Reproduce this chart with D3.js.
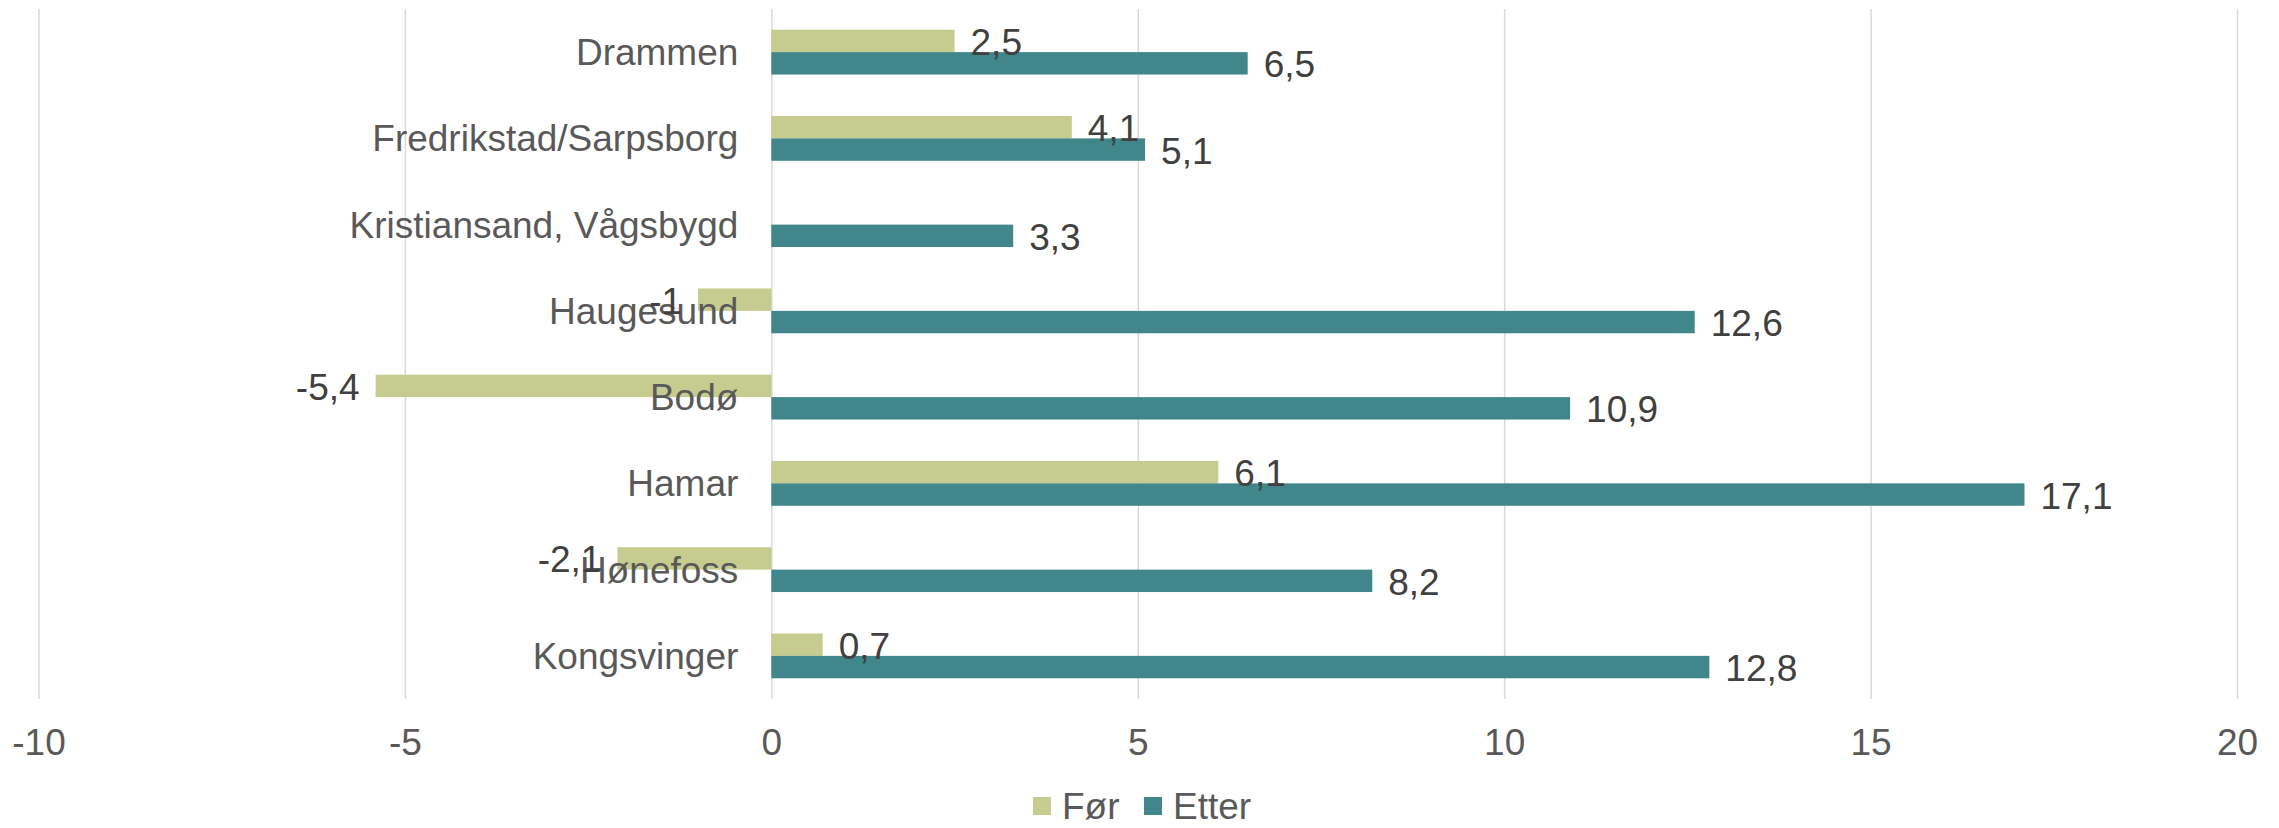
<!DOCTYPE html>
<html>
<head>
<meta charset="utf-8">
<script src="https://cdn.jsdelivr.net/npm/d3@7"></script>
<style>
	body { margin: 0; background: #fff; }
	text { font-family: "Liberation Sans", Arial, sans-serif; }
</style>
</head>
<body>
<div id="c-svg-01"></div>
<script>

//data
const categories = ["Drammen", "Fredrikstad/Sarpsborg", "Kristiansand, Vågsbygd", "Haugesund", "Bodø", "Hamar", "Hønefoss", "Kongsvinger"];
const seriesNames = ["Før", "Etter"];
const valuesFor = [2.5, 4.1, null, -1, -5.4, 6.1, -2.1, 0.7];
const valuesEtter = [6.5, 5.1, 3.3, 12.6, 10.9, 17.1, 8.2, 12.8];
const xTicks = [-10, -5, 0, 5, 10, 15, 20];

function graph1(){

	//sizing
	const width = 2279;
	const height = 828;
	const plot = {left: 38.5, right: 2237, top: 9, bottom: 699};
	const fontSize = 37;

	//format number, comma as decimal
	d3.formatDefaultLocale({
		"decimal": ",",
		"thousands": "\u2009",
		"grouping": [3],
		"currency": ["", ""],
		"minus": "-"
	});
	const fmt = d3.format("~r");

	let svg = d3.select("#c-svg-01")
		.append("svg")
		.attr("width", width)
		.attr("height", height);

	let x = d3.scaleLinear()
		.domain([-10, 20])
		.range([plot.left, plot.right]);

	let y = d3.scaleBand()
		.domain(categories)
		.range([plot.top, plot.bottom]);

	let ySub = d3.scaleBand()
		.domain(seriesNames)
		.range([0, y.bandwidth()])
		.paddingOuter(0.925);

	let fillColor = d3.scaleOrdinal()
		.domain(seriesNames)
		.range(["#c6cc8f", "#41868a"]);

	//gridlines + tick labels
	let xAxis = svg.append("g")
		.attr("transform", "translate(0," + plot.bottom + ")")
		.call(d3.axisBottom(x)
			.tickValues(xTicks)
			.tickSize(-(plot.bottom - plot.top))
			.tickPadding(30)
			.tickFormat(d3.format("d")));

	xAxis.select(".domain").remove();
	xAxis.selectAll(".tick line")
		.attr("stroke", "#d9d9d9")
		.attr("stroke-width", 1.5);
	xAxis.selectAll(".tick text")
		.attr("fill", "#595959")
		.attr("font-size", fontSize);

	//rows
	let rows = categories.map((c, i) => ({
		cat: c,
		vals: [
			{series: "Før", value: valuesFor[i]},
			{series: "Etter", value: valuesEtter[i]}
		]
	}));

	let group = svg.append("g")
		.selectAll(".row")
		.data(rows)
		.enter().append("g")
		.attr("class", "row")
		.attr("transform", (d) => "translate(0," + y(d.cat) + ")");

	let bars = group.selectAll(".bar")
		.data((d) => d.vals.filter((v) => v.value !== null))
		.enter();

	bars.append("rect")
		.attr("class", "bar")
		.attr("x", (d) => x(Math.min(0, d.value)))
		.attr("width", (d) => Math.abs(x(d.value) - x(0)))
		.attr("y", (d) => ySub(d.series))
		.attr("height", ySub.bandwidth())
		.attr("fill", (d) => fillColor(d.series));

	//category labels
	group.append("text")
		.attr("x", x(0) - 33)
		.attr("y", y.bandwidth() / 2)
		.attr("dy", "0.35em")
		.attr("text-anchor", "end")
		.attr("fill", "#595959")
		.attr("font-size", fontSize)
		.text((d) => d.cat);

	//data labels
	bars.append("text")
		.attr("x", (d) => d.value < 0 ? x(d.value) - 16 : x(d.value) + 16)
		.attr("y", (d) => ySub(d.series) + ySub.bandwidth() / 2)
		.attr("dy", "0.38em")
		.attr("text-anchor", (d) => d.value < 0 ? "end" : "start")
		.attr("fill", "#404040")
		.attr("font-size", fontSize)
		.text((d) => fmt(d.value));

	//legend
	let legendX = [1033, 1144];
	let legend = svg.append("g")
		.selectAll(".legend")
		.data(seriesNames)
		.enter().append("g")
		.attr("transform", (d, i) => "translate(" + legendX[i] + ",797)");

	legend.append("rect")
		.attr("width", 18)
		.attr("height", 18)
		.attr("fill", (d) => fillColor(d));

	legend.append("text")
		.attr("x", 29)
		.attr("y", 9)
		.attr("dy", "0.35em")
		.attr("fill", "#595959")
		.attr("font-size", fontSize)
		.text((d) => d);

} //function graph1

graph1();
</script>
</body>
</html>
